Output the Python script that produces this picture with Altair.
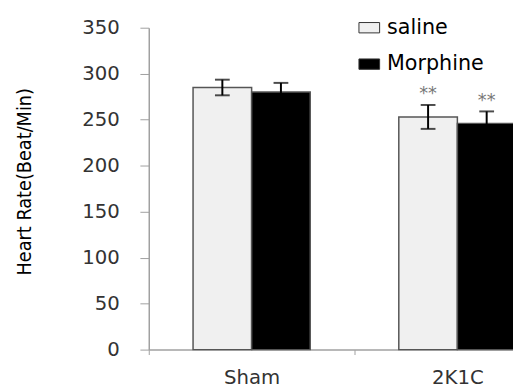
import altair as alt
import pandas as pd

groups = ["Sham", "Sham", "2K1C", "2K1C"]
treatments = ["saline", "Morphine", "saline", "Morphine"]
means = [285, 280, 253, 246]
sems = [8.5, 10, 13, 13]
stars = ["", "", "**", "**"]
y_ticks = [0, 50, 100, 150, 200, 250, 300, 350]
group_order = ["Sham", "2K1C"]
treat_order = ["saline", "Morphine"]
fill_colors = ["#f0f0f0", "#000000"]

df = pd.DataFrame({
    "group": groups,
    "treatment": treatments,
    "mean": means,
    "lo": [m - s for m, s in zip(means, sems)],
    "hi": [m + s for m, s in zip(means, sems)],
    "star": stars,
})

x_enc = alt.X("group:N", sort=group_order,
              scale=alt.Scale(domain=group_order, range=[0, 418], paddingInner=0, paddingOuter=0),
              axis=alt.Axis(title=None, labelAngle=0, labelFont="DejaVu Sans", labelFontSize=20,
                            labelColor="#333333", domainColor="#a0a0a0", tickColor="#a0a0a0",
                            tickSize=5, tickBand="extent", labelPadding=13, domainWidth=1.5))
xo_enc = alt.XOffset("treatment:N", sort=treat_order,
                     scale=alt.Scale(domain=treat_order, paddingOuter=0.756, paddingInner=0))

base = alt.Chart(df).encode(x=x_enc, xOffset=xo_enc)

bars = base.mark_bar(stroke="#555555", strokeWidth=1.5).encode(
    y=alt.Y("mean:Q", scale=alt.Scale(domain=[0, 350], nice=False),
            axis=alt.Axis(values=y_ticks, title="Heart Rate(Beat/Min)", grid=False,
                          labelFont="DejaVu Sans", labelFontSize=20, labelColor="#333333",
                          domainColor="#a0a0a0", tickColor="#a0a0a0", tickSize=9,
                          labelPadding=21, domainWidth=1.5,
                          titleFont="Liberation Sans Narrow, DejaVu Sans Condensed, Liberation Sans",
                          titleFontSize=20,
                          titleFontWeight="normal", titleColor="#000000",
                          titleAngle=-90, titleAlign="center", titleBaseline="top",
                          titleX=-136, titleY=156)),
    fill=alt.Fill("treatment:N", sort=treat_order,
                  scale=alt.Scale(domain=treat_order, range=fill_colors),
                  legend=alt.Legend(title=None, orient="none", legendX=213, legendY=-11,
                                    symbolType="M-1,-0.5H1V0.5H-1Z", symbolSize=441,
                                    symbolStrokeColor="#333333", symbolStrokeWidth=1,
                                    labelFont="DejaVu Sans", labelFontSize=21,
                                    labelColor="#000000", labelOffset=7, rowPadding=16,
                                    padding=0)),
)

rules = base.mark_rule(color="black", strokeWidth=2).encode(y="lo:Q", y2="hi:Q")
caps_hi = base.mark_tick(color="black", thickness=2, size=15).encode(y="hi:Q")
caps_lo = base.mark_tick(color="black", thickness=2, size=15).encode(y="lo:Q")
text = base.mark_text(font="DejaVu Sans", fontSize=18, color="#777777", baseline="middle", dy=-11).encode(
    y="hi:Q", text="star:N")

chart = alt.layer(bars, rules, caps_hi, caps_lo, text).properties(
    width=370, height=327,
    autosize=alt.AutoSizeParams(type="none"),
    padding={"left": 143, "top": 17, "right": 0, "bottom": 38},
).configure_view(stroke=None)

chart.save("out.html", embed_options={"renderer": "svg", "actions": False})
